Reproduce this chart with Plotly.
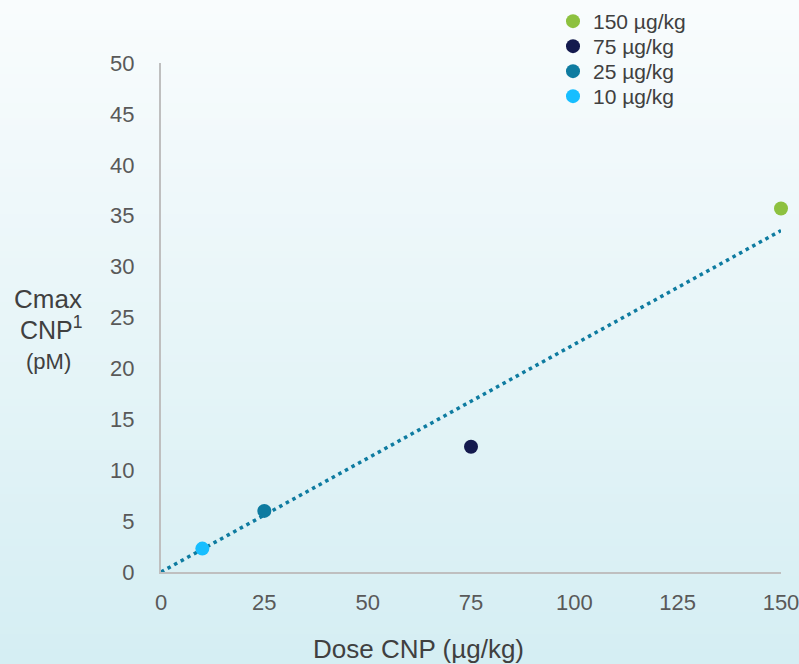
import numpy as np
import plotly.graph_objects as go

doses = [150, 75, 25, 10]
cmax = [35.7, 12.3, 6.0, 2.3]
labels = ["150 µg/kg", "75 µg/kg", "25 µg/kg", "10 µg/kg"]
colors = ["#8DC13F", "#141A4E", "#0E7BA0", "#17BEFF"]
x_ticks = [0, 25, 50, 75, 100, 125, 150]
y_ticks = [0, 5, 10, 15, 20, 25, 30, 35, 40, 45, 50]

# linear trend through origin (least squares)
xa = np.array(doses, dtype=float)
ya = np.array(cmax, dtype=float)
slope = float((xa * ya).sum() / (xa * xa).sum())
trend_x = [0, 150]
trend_y = [0, slope * 150]

L, R, T, B = 161, 18, 63, 92
W, H = 799, 664
PW, PH = W - L - R, H - T - B

fig = go.Figure()
fig.add_trace(go.Scatter(x=trend_x, y=trend_y, mode="lines",
                         line=dict(color="#0E7BA0", width=3.5, dash="3.5px,4px"),
                         showlegend=False, hoverinfo="skip", cliponaxis=False))
legend_names = ["legend", "legend2", "legend3", "legend4"]
for d, c, l, col, lg in zip(doses, cmax, labels, colors, legend_names):
    fig.add_trace(go.Scatter(x=[d], y=[c], mode="markers", name=l, legend=lg,
                             cliponaxis=False,
                             marker=dict(color=col, size=14)))

# background gradient (pixel rows mapped to paper coords)
shapes = []
n = 90
top = np.array([0xF9, 0xFC, 0xFD])
bot = np.array([0xD5, 0xEE, 0xF3])
for i in range(n):
    t = i / (n - 1)
    c = (top + (bot - top) * t).round().astype(int)
    py0 = H * i / n
    py1 = H * (i + 1) / n + 1
    shapes.append(dict(type="rect", xref="paper", yref="paper",
                       x0=-L / PW - 0.05, x1=1 + R / PW + 0.05,
                       y0=(H - B - py1) / PH, y1=(H - B - py0) / PH,
                       layer="below", line=dict(width=0),
                       fillcolor="rgb(%d,%d,%d)" % tuple(c)))

def px_x(p):
    return (p - L) / PW

def px_y(p):
    return (H - B - p) / PH

font_fam = "Liberation Sans, Arial, sans-serif"
legend_style = dict(xref="container", yref="container", xanchor="left", yanchor="top",
                    bgcolor="rgba(0,0,0,0)", font=dict(size=21, color="#404040"),
                    itemsizing="trace")
legends = {}
for i, lg in enumerate(legend_names):
    legends[lg] = dict(legend_style, x=553 / W, y=1 - (1 + 25 * i) / H)

fig.update_layout(
    width=W, height=H,
    margin=dict(l=L, r=R, t=T, b=B, autoexpand=False),
    paper_bgcolor="rgba(0,0,0,0)", plot_bgcolor="rgba(0,0,0,0)",
    shapes=shapes,
    font=dict(family=font_fam, color="#595959", size=22),
    xaxis=dict(range=[0, 150], tickvals=x_ticks, showgrid=False, zeroline=False,
               showline=True, linecolor="#BFBFBF", linewidth=2, ticks="",
               ticklabelstandoff=10, tickfont=dict(size=22),
               ticklabeloverflow="allow"),
    yaxis=dict(range=[0, 50], tickvals=y_ticks, showgrid=False, zeroline=False,
               showline=True, linecolor="#BFBFBF", linewidth=2, ticks="",
               ticklabelstandoff=20, tickfont=dict(size=22)),
    showlegend=True,
    annotations=[
        dict(text="Dose CNP (µg/kg)", x=px_x(418), y=px_y(649), xref="paper", yref="paper",
             xanchor="center", yanchor="middle",
             showarrow=False, font=dict(size=26, color="#404040")),
        dict(text="Cmax", x=px_x(48), y=px_y(299), xref="paper", yref="paper",
             xanchor="center", yanchor="middle",
             showarrow=False, font=dict(size=26, color="#404040")),
        dict(text="CNP<sup>1</sup>", x=px_x(51), y=px_y(328), xref="paper", yref="paper",
             xanchor="center", yanchor="middle",
             showarrow=False, font=dict(size=25, color="#404040")),
        dict(text="(pM)", x=px_x(48), y=px_y(361), xref="paper", yref="paper",
             xanchor="center", yanchor="middle",
             showarrow=False, font=dict(size=22, color="#404040")),
    ],
    **legends,
)
fig.write_html("out.html", post_script="document.body.style.margin='0';",
               config={"displayModeBar": False})
